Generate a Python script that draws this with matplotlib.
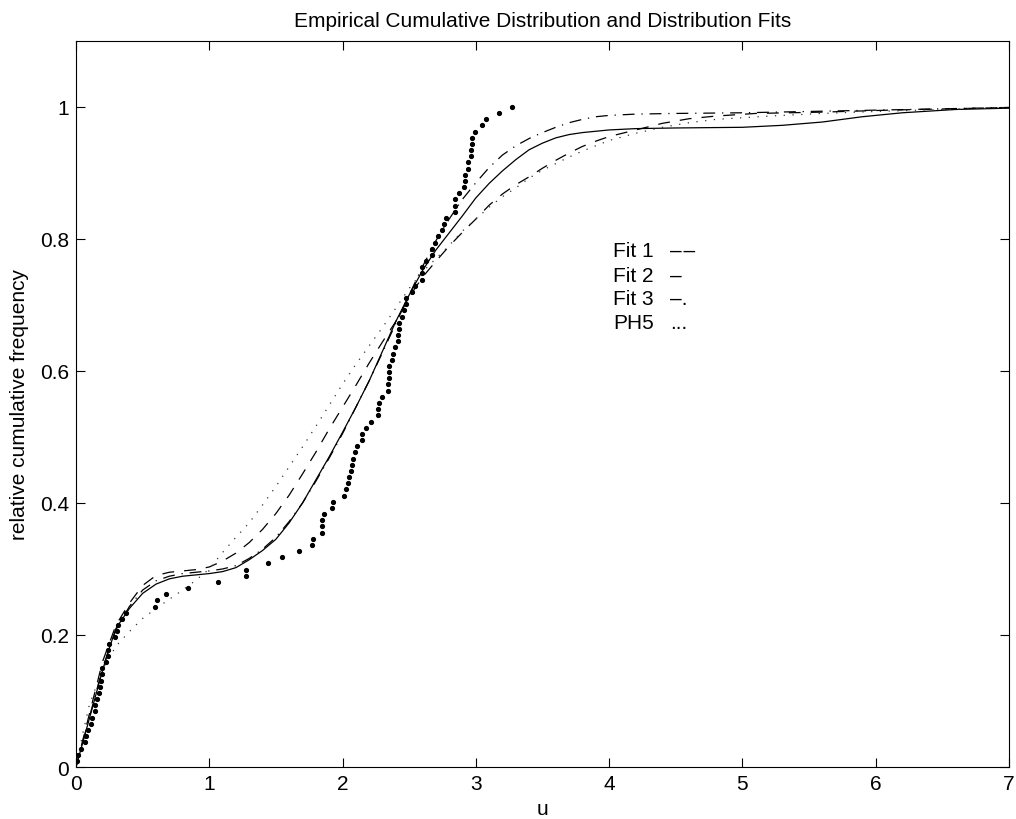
import matplotlib
matplotlib.use("Agg")
import matplotlib.pyplot as plt
import numpy as np

plt.rcParams['font.family'] = ['Liberation Sans', 'DejaVu Sans']

# empirical sample (sorted)
sample_u = [0.008, 0.012, 0.04, 0.068, 0.075, 0.092, 0.11, 0.118, 0.143, 0.145,
            0.16, 0.175, 0.177, 0.19, 0.193, 0.195, 0.222, 0.24, 0.243, 0.245,
            0.293, 0.31, 0.313, 0.343, 0.373, 0.593, 0.61, 0.673, 0.843, 1.063,
            1.273, 1.275, 1.443, 1.543, 1.673, 1.773, 1.775, 1.843, 1.845, 1.847,
            1.863, 1.923, 1.925, 2.01, 2.023, 2.043, 2.045, 2.063, 2.073, 2.075,
            2.093, 2.11, 2.143, 2.145, 2.173, 2.213, 2.263, 2.265, 2.273, 2.293,
            2.343, 2.344, 2.345, 2.346, 2.347, 2.373, 2.375, 2.393, 2.413, 2.415,
            2.423, 2.425, 2.443, 2.463, 2.473, 2.475, 2.523, 2.543, 2.593, 2.595,
            2.597, 2.623, 2.673, 2.675, 2.695, 2.718, 2.743, 2.763, 2.773, 2.843,
            2.845, 2.847, 2.873, 2.913, 2.918, 2.92, 2.943, 2.945, 2.963, 2.965,
            2.973, 2.975, 2.993, 3.043, 3.073, 3.173, 3.273]

# fitted distribution functions
fit1_u = [0, 0.1, 0.2, 0.3, 0.4, 0.5, 0.6, 0.7, 0.8, 0.9, 1.0, 1.1, 1.2, 1.3, 1.4,
          1.5, 1.6, 1.7, 1.8, 1.9, 2.0, 2.1, 2.2, 2.3, 2.4, 2.5, 2.6, 2.7, 2.8, 2.9,
          3.0, 3.1, 3.2, 3.3, 3.4, 3.5, 3.6, 3.7, 3.8, 3.9, 4.0, 4.2, 4.4, 4.6, 4.8,
          5.1, 5.6, 6.1, 7.0]
fit1_F = [0, 0.08, 0.16, 0.215, 0.248, 0.275, 0.29, 0.295, 0.297, 0.299, 0.303,
          0.312, 0.324, 0.34, 0.36, 0.384, 0.412, 0.444, 0.477, 0.512, 0.545,
          0.578, 0.612, 0.644, 0.675, 0.712, 0.742, 0.766, 0.789, 0.81, 0.83,
          0.851, 0.868, 0.882, 0.894, 0.907, 0.919, 0.93, 0.94, 0.948, 0.955,
          0.965, 0.975, 0.982, 0.986, 0.99, 0.992, 0.995, 0.999]

fit2_u = [0, 0.1, 0.2, 0.25, 0.3, 0.4, 0.5, 0.6, 0.7, 0.8, 0.9, 1.0, 1.1, 1.2, 1.3,
          1.4, 1.5, 1.6, 1.7, 1.8, 1.9, 2.0, 2.1, 2.2, 2.3, 2.4, 2.5, 2.6, 2.7, 2.8,
          2.9, 3.0, 3.1, 3.2, 3.3, 3.4, 3.5, 3.6, 3.7, 3.8, 3.9, 4.0, 4.2, 4.5, 5.0,
          5.3, 5.6, 5.9, 6.2, 6.6, 7.0]
fit2_F = [0, 0.073, 0.147, 0.18, 0.21, 0.24, 0.263, 0.277, 0.285, 0.289, 0.291,
          0.293, 0.296, 0.302, 0.314, 0.328, 0.345, 0.37, 0.4, 0.435, 0.47, 0.507,
          0.545, 0.585, 0.63, 0.675, 0.715, 0.752, 0.783, 0.809, 0.835, 0.862,
          0.884, 0.903, 0.92, 0.935, 0.945, 0.953, 0.958, 0.961, 0.963, 0.965,
          0.967, 0.968, 0.969, 0.972, 0.977, 0.985, 0.991, 0.996, 0.998]

fit3_u = [0, 0.1, 0.2, 0.3, 0.4, 0.5, 0.6, 0.7, 0.8, 0.9, 1.0, 1.1, 1.2, 1.3, 1.4,
          1.5, 1.6, 1.7, 1.8, 1.9, 2.0, 2.1, 2.2, 2.3, 2.4, 2.5, 2.6, 2.7, 2.8, 2.9,
          3.0, 3.1, 3.2, 3.3, 3.4, 3.5, 3.6, 3.7, 3.8, 3.9, 4.0, 4.2, 4.5, 5.0, 5.5,
          6.0, 6.5, 7.0]
fit3_F = [0, 0.075, 0.15, 0.208, 0.243, 0.268, 0.282, 0.289, 0.293, 0.295, 0.297,
          0.3, 0.305, 0.316, 0.33, 0.348, 0.372, 0.4, 0.433, 0.468, 0.505, 0.545,
          0.585, 0.628, 0.672, 0.715, 0.758, 0.797, 0.83, 0.86, 0.885, 0.908,
          0.927, 0.941, 0.952, 0.961, 0.969, 0.976, 0.981, 0.985, 0.987, 0.989,
          0.99, 0.991, 0.993, 0.995, 0.997, 0.999]

ph5_u = [0, 0.05, 0.1, 0.2, 0.3, 0.4, 0.5, 0.6, 0.7, 0.8, 0.9, 1.0, 1.1, 1.2, 1.3,
         1.4, 1.5, 1.6, 1.7, 1.8, 1.9, 2.0, 2.1, 2.2, 2.3, 2.4, 2.5, 2.6, 2.7, 2.8,
         2.9, 3.0, 3.1, 3.2, 3.3, 3.4, 3.5, 3.6, 3.7, 3.8, 3.9, 4.0, 4.2, 4.4, 4.6,
         4.8, 5.2, 5.6, 6.0, 6.5, 7.0]
ph5_F = [0, 0.05, 0.094, 0.148, 0.183, 0.205, 0.225, 0.24, 0.254, 0.268, 0.283,
         0.3, 0.325, 0.348, 0.37, 0.397, 0.425, 0.455, 0.485, 0.516, 0.548, 0.58,
         0.61, 0.638, 0.666, 0.695, 0.725, 0.75, 0.77, 0.79, 0.812, 0.83, 0.848,
         0.864, 0.877, 0.892, 0.904, 0.914, 0.924, 0.933, 0.941, 0.949, 0.96,
         0.969, 0.976, 0.981, 0.986, 0.99, 0.993, 0.996, 0.999]

legend_names = ['Fit 1', 'Fit 2', 'Fit 3', 'PH5']
legend_marks = ['\u2013\u200a\u2013', '\u2013', '\u2013.', '...']

n = len(sample_u)
ecdf = np.arange(1, n + 1) / n

fs = 15
fig = plt.figure(figsize=(10.16, 8.2), dpi=100)
ax = fig.add_axes([0.0748, 0.0634, 0.9182, 0.8856])

ax.plot(fit1_u, fit1_F, color='black', lw=0.9, dashes=(9.5, 8))
ax.plot(fit2_u, fit2_F, color='black', lw=0.9)
ax.plot(fit3_u, fit3_F, color='black', lw=0.9, dashes=(9.5, 5.5, 1, 5.5))
ax.plot(ph5_u, ph5_F, color='#333333', lw=0.9, dashes=(1, 6))
ax.plot(sample_u, ecdf, 'k.', markersize=5.5)

ax.set_xlim(0, 7)
ax.set_ylim(0, 1.1)
ax.set_xticks(range(8))
ax.set_yticks([0, 0.2, 0.4, 0.6, 0.8, 1.0])
ax.set_yticklabels(['0', '0.2', '0.4', '0.6', '0.8', '1'])
ax.tick_params(direction='in', top=True, right=True, labelsize=fs, length=6.5, pad=5)

ax.set_title('Empirical Cumulative Distribution and Distribution Fits', fontsize=fs, pad=11)
ax.set_xlabel('u', fontsize=fs, labelpad=4)
ax.set_ylabel('relative cumulative frequency', fontsize=fs, labelpad=8)

ys = [0.782, 0.745, 0.709, 0.673]
for name, mark, y in zip(legend_names, legend_marks, ys):
    ax.text(4.03, y, name, fontsize=fs, va='center')
    ax.text(4.46, y, mark, fontsize=fs, va='center')

fig.savefig('out.png', dpi=100)
